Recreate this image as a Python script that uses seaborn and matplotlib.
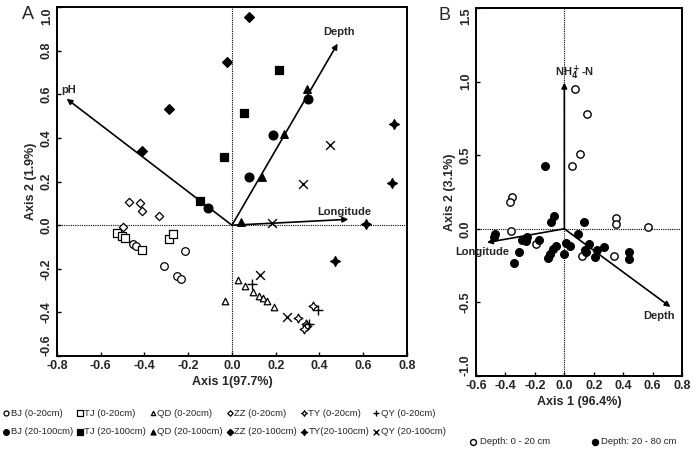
import numpy as np
import pandas as pd
import seaborn as sns
import matplotlib as mpl
from matplotlib import pyplot as plt

# ---- panel A data (RDA site scores) ----
bj0_x = [-0.451, -0.439, -0.215, -0.311, -0.253, -0.233]
bj0_y = [-0.084, -0.094, -0.118, -0.187, -0.232, -0.246]
tj0_x = [-0.524, -0.505, -0.49, -0.413, -0.288, -0.268]
tj0_y = [-0.035, -0.05, -0.058, -0.112, -0.061, -0.041]
qd0_x = [-0.032, 0.029, 0.058, 0.098, 0.122, 0.140, 0.158, 0.192]
qd0_y = [-0.347, -0.252, -0.277, -0.307, -0.326, -0.332, -0.347, -0.375]
zz0_x = [-0.469, -0.421, -0.41, -0.332, -0.497]
zz0_y = [0.107, 0.102, 0.066, 0.041, -0.008]
ty0_x = [0.372, 0.303, 0.338, 0.344, 0.33]
ty0_y = [-0.372, -0.425, -0.451, -0.46, -0.475]
qy0_x = [0.09, 0.395, 0.35]
qy0_y = [-0.271, -0.39, -0.455]

bj20_x = [-0.108, 0.349, 0.189, 0.076]
bj20_y = [0.081, 0.577, 0.416, 0.222]
tj20_x = [-0.146, -0.037, 0.056, 0.216]
tj20_y = [0.111, 0.311, 0.515, 0.714]
qd20_x = [0.04, 0.137, 0.239, 0.341]
qd20_y = [0.015, 0.222, 0.42, 0.624]
zz20_x = [-0.41, -0.287, -0.024, 0.079]
zz20_y = [0.339, 0.531, 0.749, 0.953]
ty20_x = [0.742, 0.734, 0.613, 0.471]
ty20_y = [0.463, 0.194, 0.005, -0.165]
qy20_x = [0.448, 0.326, 0.181, 0.128, 0.25]
qy20_y = [0.37, 0.187, 0.008, -0.226, -0.42]

arrows_a = ["pH", "Depth", "Longitude"]
arrows_a_x = [-0.756, 0.483, 0.532]
arrows_a_y = [0.58, 0.833, 0.027]

# ---- panel B data ----
top_x = [0.075, 0.154, 0.104, 0.052, -0.356, -0.367, -0.363, 0.354, 0.354,
         0.567, -0.195, 0.122, 0.336]
top_y = [0.95, 0.78, 0.508, 0.429, 0.218, 0.179, -0.014, 0.073, 0.032,
         0.014, -0.104, -0.186, -0.188]
sub_x = [-0.129, -0.474, -0.476, -0.286, -0.254, -0.26, -0.172, -0.311, -0.345,
         -0.073, -0.088, -0.059, -0.079, -0.095, -0.111, 0.0, 0.011, 0.041,
         0.093, 0.136, 0.166, 0.143, 0.15, 0.222, 0.268, 0.211, 0.438, 0.438]
sub_y = [0.429, -0.032, -0.059, -0.077, -0.059, -0.08, -0.077, -0.161, -0.234,
         0.088, 0.048, -0.116, -0.139, -0.172, -0.2, -0.168, -0.097, -0.12,
         -0.036, 0.043, -0.104, -0.143, -0.16, -0.143, -0.127, -0.195, -0.161,
         -0.206]

arrows_b = ["NH$_4^+$-N", "Longitude", "Depth"]
arrows_b_x = [0.0, -0.526, 0.721]
arrows_b_y = [0.993, -0.093, -0.531]

sns.set_style("white")
plt.rcParams['font.family'] = ['Liberation Sans', 'DejaVu Sans']
plt.rcParams['axes.unicode_minus'] = False
plt.rcParams['mathtext.default'] = 'bf'

fig = plt.figure(figsize=(6.97, 4.49), dpi=100)
ax_a = fig.add_axes([0.0818, 0.207, 0.502, 0.777])
ax_b = fig.add_axes([0.683, 0.1626, 0.2956, 0.8196])

star = (4, 1, 0)
groups_a = [
    (bj0_x, bj0_y, "o", False, 30, "BJ (0-20cm)"),
    (bj20_x, bj20_y, "o", True, 40, "BJ (20-100cm)"),
    (tj0_x, tj0_y, "s", False, 40, "TJ (0-20cm)"),
    (tj20_x, tj20_y, "s", True, 40, "TJ (20-100cm)"),
    (qd0_x, qd0_y, "^", False, 22, "QD (0-20cm)"),
    (qd20_x, qd20_y, "^", True, 30, "QD (20-100cm)"),
    (zz0_x, zz0_y, "D", False, 18, "ZZ (0-20cm)"),
    (zz20_x, zz20_y, "D", True, 25, "ZZ (20-100cm)"),
    (ty0_x, ty0_y, star, False, 40, "TY (0-20cm)"),
    (ty20_x, ty20_y, star, True, 50, "TY(20-100cm)"),
    (qy0_x, qy0_y, "+", None, 45, "QY (0-20cm)"),
    (qy20_x, qy20_y, "x", None, 40, "QY (20-100cm)"),
]

for gx, gy, mk, filled, size, lab in groups_a:
    df = pd.DataFrame({"x": gx, "y": gy})
    if filled is None:
        sns.scatterplot(data=df, x="x", y="y", marker=mk, color="black", s=size,
                        linewidth=1.0, ax=ax_a, label=lab, zorder=3)
    else:
        sns.scatterplot(data=df, x="x", y="y", marker=mk, s=size,
                        facecolor="black" if filled else "white",
                        edgecolor="black", linewidth=0.9, ax=ax_a, label=lab,
                        zorder=3)

handles, labels = ax_a.get_legend_handles_labels()
ax_a.get_legend().remove()


def draw_arrows(ax, xs, ys):
    for x, y in zip(xs, ys):
        ax.annotate("", xy=(x, y), xytext=(0, 0),
                    arrowprops=dict(arrowstyle="-|>", color="black", lw=1.2,
                                    mutation_scale=8, shrinkA=0, shrinkB=0),
                    zorder=2)


draw_arrows(ax_a, arrows_a_x, arrows_a_y)
ax_a.text(-0.78, 0.62, "pH", fontsize=8, fontweight="bold", ha="left", va="center")
ax_a.text(0.492, 0.884, "Depth", fontsize=8, fontweight="bold", ha="center", va="center")
ax_a.text(0.512, 0.061, "Longitude", fontsize=8, fontweight="bold", ha="center", va="center")

# ---- panel B ----
df_top = pd.DataFrame({"x": top_x, "y": top_y})
df_sub = pd.DataFrame({"x": sub_x, "y": sub_y})
sns.scatterplot(data=df_top, x="x", y="y", marker="o", s=28, facecolor="white",
                edgecolor="black", linewidth=1.0, ax=ax_b, zorder=3,
                label="Depth: 0 - 20 cm")
sns.scatterplot(data=df_sub, x="x", y="y", marker="o", s=32, facecolor="black",
                edgecolor="black", linewidth=0.8, ax=ax_b, zorder=3,
                label="Depth: 20 - 80 cm")
handles_b, labels_b = ax_b.get_legend_handles_labels()
ax_b.get_legend().remove()

draw_arrows(ax_b, arrows_b_x, arrows_b_y)
ax_b.text(0.066, 1.057, arrows_b[0], fontsize=8, fontweight="bold", ha="center", va="center")
ax_b.text(-0.555, -0.16, "Longitude", fontsize=8, fontweight="bold", ha="center",
          va="center", clip_on=False)
ax_b.text(0.644, -0.592, "Depth", fontsize=8, fontweight="bold", ha="center", va="center")

# ---- axes styling ----
for ax, xlim, ylim, xt, yt, xl, yl in [
    (ax_a, (-0.8, 0.8), (-0.6, 1.0), np.arange(-0.8, 0.81, 0.2),
     np.arange(-0.6, 1.01, 0.2), "Axis 1(97.7%)", "Axis 2 (1.9%)"),
    (ax_b, (-0.6, 0.8), (-1.0, 1.5), np.arange(-0.6, 0.81, 0.2),
     np.arange(-1.0, 1.51, 0.5), "Axis 1 (96.4%)", "Axis 2 (3.1%)"),
]:
    ax.axhline(0, color="black", linestyle=(0, (1, 1)), linewidth=0.8, zorder=1)
    ax.axvline(0, color="black", linestyle=(0, (1, 1)), linewidth=0.8, zorder=1)
    ax.set_xlim(*xlim)
    ax.set_ylim(*ylim)
    ax.set_xticks(xt)
    ax.set_yticks(yt)
    ax.set_xticklabels([f"{v:.1f}" if abs(v) > 1e-9 else "0.0" for v in xt],
                       fontsize=9, fontweight="bold")
    ylabs = ax.set_yticklabels([f"{v:.1f}" if abs(v) > 1e-9 else "0.0" for v in yt],
                               fontsize=9, fontweight="bold", rotation=90, va="center")
    ylabs[0].set_va("bottom")
    ylabs[-1].set_va("top")
    ax.set_xlabel(xl, fontsize=9, fontweight="bold", labelpad=3)
    ax.set_ylabel(yl, fontsize=9, fontweight="bold", labelpad=3)
    ax.tick_params(direction="in", length=3, width=1, color="black", pad=3,
                   top=False, right=False, left=True, bottom=True)
    for sp in ax.spines.values():
        sp.set_color("black")
        sp.set_linewidth(1.4)

fig.text(0.04, 0.968, "A", fontsize=13, ha="center", va="center")
fig.text(0.638, 0.966, "B", fontsize=13, ha="center", va="center")

fig.legend(handles, labels, ncol=6, loc="upper left", bbox_to_anchor=(-0.003, 0.098),
           frameon=False, fontsize=6.8, handletextpad=0.05, columnspacing=0.25,
           handlelength=0.9, borderaxespad=0, labelspacing=1.0, markerscale=0.65)
fig.legend(handles_b, labels_b, ncol=2, loc="upper left", bbox_to_anchor=(0.667, 0.035),
           frameon=False, fontsize=6.8, handletextpad=0.2, columnspacing=4.2,
           handlelength=1.0, borderaxespad=0, markerscale=0.8)

fig.savefig("out.png", dpi=100)
